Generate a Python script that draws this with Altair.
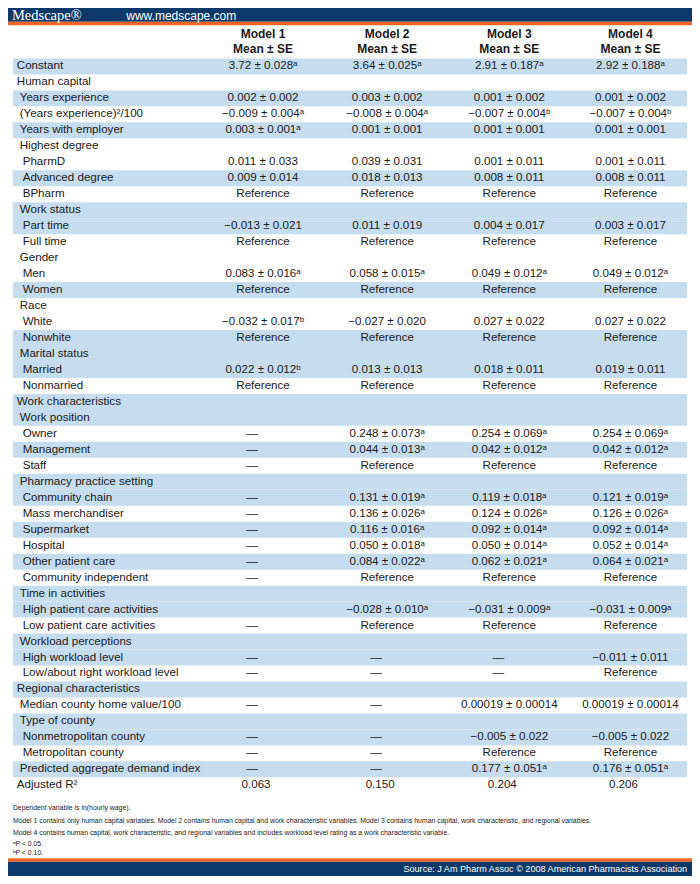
import altair as alt
import pandas as pd

# ---------------- data ----------------
labels = [
    "Constant", "Human capital", "Years experience", "(Years experience)²/100",
    "Years with employer", "Highest degree", "PharmD", "Advanced degree", "BPharm",
    "Work status", "Part time", "Full time", "Gender", "Men", "Women", "Race",
    "White", "Nonwhite", "Marital status", "Married", "Nonmarried",
    "Work characteristics", "Work position", "Owner", "Management", "Staff",
    "Pharmacy practice setting", "Community chain", "Mass merchandiser",
    "Supermarket", "Hospital", "Other patient care", "Community independent",
    "Time in activities", "High patient care activities", "Low patient care activities",
    "Workload perceptions", "High workload level", "Low/about right workload level",
    "Regional characteristics", "Median county home value/100", "Type of county",
    "Nonmetropolitan county", "Metropolitan county", "Predicted aggregate demand index",
    "Adjusted R²",
]
levels = [0, 0, 1, 1, 1, 1, 2, 2, 2, 1, 2, 2, 1, 2, 2, 1, 2, 2, 1, 2, 2,
          0, 1, 2, 2, 2, 1, 2, 2, 2, 2, 2, 2, 1, 2, 2, 1, 2, 2,
          0, 1, 1, 2, 2, 1, 0]
shaded = [1, 0, 1, 0, 1, 0, 0, 1, 0, 1, 1, 0, 0, 0, 1, 0, 0, 1, 1, 1, 0,
          1, 1, 0, 1, 0, 1, 1, 0, 1, 0, 1, 0, 1, 1, 0, 1, 1, 0,
          1, 0, 1, 1, 0, 1, 0]

D = "—"
R = "Reference"
model1 = [
    "3.72 ± 0.028ᵃ", "", "0.002 ± 0.002", "−0.009 ± 0.004ᵃ", "0.003 ± 0.001ᵃ", "",
    "0.011 ± 0.033", "0.009 ± 0.014", R, "", "−0.013 ± 0.021", R, "", "0.083 ± 0.016ᵃ", R,
    "", "−0.032 ± 0.017ᵇ", R, "", "0.022 ± 0.012ᵇ", R,
    "", "", D, D, D, "", D, D, D, D, D, D, "", "", D, "", D, D,
    "", D, "", D, D, D, "0.063",
]
model2 = [
    "3.64 ± 0.025ᵃ", "", "0.003 ± 0.002", "−0.008 ± 0.004ᵃ", "0.001 ± 0.001", "",
    "0.039 ± 0.031", "0.018 ± 0.013", R, "", "0.011 ± 0.019", R, "", "0.058 ± 0.015ᵃ", R,
    "", "−0.027 ± 0.020", R, "", "0.013 ± 0.013", R,
    "", "", "0.248 ± 0.073ᵃ", "0.044 ± 0.013ᵃ", R, "", "0.131 ± 0.019ᵃ", "0.136 ± 0.026ᵃ",
    "0.116 ± 0.016ᵃ", "0.050 ± 0.018ᵃ", "0.084 ± 0.022ᵃ", R, "", "−0.028 ± 0.010ᵃ", R,
    "", D, D, "", D, "", D, D, D, "0.150",
]
model3 = [
    "2.91 ± 0.187ᵃ", "", "0.001 ± 0.002", "−0.007 ± 0.004ᵇ", "0.001 ± 0.001", "",
    "0.001 ± 0.011", "0.008 ± 0.011", R, "", "0.004 ± 0.017", R, "", "0.049 ± 0.012ᵃ", R,
    "", "0.027 ± 0.022", R, "", "0.018 ± 0.011", R,
    "", "", "0.254 ± 0.069ᵃ", "0.042 ± 0.012ᵃ", R, "", "0.119 ± 0.018ᵃ", "0.124 ± 0.026ᵃ",
    "0.092 ± 0.014ᵃ", "0.050 ± 0.014ᵃ", "0.062 ± 0.021ᵃ", R, "", "−0.031 ± 0.009ᵃ", R,
    "", D, D, "", "0.00019 ± 0.00014", "", "−0.005 ± 0.022", R, "0.177 ± 0.051ᵃ", "0.204",
]
model4 = [
    "2.92 ± 0.188ᵃ", "", "0.001 ± 0.002", "−0.007 ± 0.004ᵇ", "0.001 ± 0.001", "",
    "0.001 ± 0.011", "0.008 ± 0.011", R, "", "0.003 ± 0.017", R, "", "0.049 ± 0.012ᵃ", R,
    "", "0.027 ± 0.022", R, "", "0.019 ± 0.011", R,
    "", "", "0.254 ± 0.069ᵃ", "0.042 ± 0.012ᵃ", R, "", "0.121 ± 0.019ᵃ", "0.126 ± 0.026ᵃ",
    "0.092 ± 0.014ᵃ", "0.052 ± 0.014ᵃ", "0.064 ± 0.021ᵃ", R, "", "−0.031 ± 0.009ᵃ", R,
    "", "−0.011 ± 0.011", R, "", "0.00019 ± 0.00014", "", "−0.005 ± 0.022", R,
    "0.176 ± 0.051ᵃ", "0.206",
]
model_names = ["Model 1", "Model 2", "Model 3", "Model 4"]
header_sub = "Mean ± SE"

footnotes = [
    "Dependent variable is ln(hourly wage).",
    "Model 1 contains only human capital variables. Model 2 contains human capital and work characteristic variables. Model 3 contains human capital, work characteristic, and regional variables.",
    "Model 4 contains human capital, work characteristic, and regional variables and includes workload level rating as a work characteristic variable.",
    "ᵃP < 0.05.",
    "ᵇP < 0.10.",
]
brand = "Medscape®"
url = "www.medscape.com"
source = "Source: J Am Pharm Assoc © 2008 American Pharmacists Association"

# ---------------- layout ----------------
W, H = 700, 884
ROW0, STEP = 59.5, 16.27
COL_X = [261, 388, 513, 637]
INDENT = {0: 9, 1: 12, 2: 15}
NAVY, ORANGE, BAND, INK = "#0b3a6a", "#f26522", "#c6dcef", "#1a1a1a"
FONT = "Liberation Sans, Arial, sans-serif"

xs = alt.Scale(domain=[0, W], nice=False, zero=False)
ys = alt.Scale(domain=[0, H], nice=False, zero=False, reverse=True)
X = lambda f="x": alt.X(f + ":Q", scale=xs, axis=None)
Y = lambda f="y": alt.Y(f + ":Q", scale=ys, axis=None)

row_y = [ROW0 + i * STEP for i in range(len(labels))]

# rectangles: bars + bands
rects = [
    dict(x=0, x2=W, y=0, y2=14, fill=NAVY),
    dict(x=0, x2=W, y=14, y2=17.5, fill=ORANGE),
    dict(x=0, x2=W, y=866, y2=869.5, fill=ORANGE),
    dict(x=0, x2=W, y=869.5, y2=H, fill=NAVY),
]
for i, s in enumerate(shaded):
    if s:
        rects.append(dict(x=5, x2=695, y=row_y[i] - STEP / 2, y2=row_y[i] + STEP / 2, fill=BAND))
rect_df = pd.DataFrame(rects)
rect_layer = alt.Chart(rect_df).mark_rect().encode(
    x=X(), x2="x2:Q", y=Y(), y2="y2:Q", fill=alt.Fill("fill:N", scale=None)
)

TS = 11.6
# labels
lab_df = pd.DataFrame({
    "x": [INDENT[l] for l in levels], "y": row_y, "t": labels,
})
lab_layer = alt.Chart(lab_df).mark_text(
    align="left", baseline="middle", font=FONT, fontSize=TS, color=INK
).encode(x=X(), y=Y(), text="t:N")

# values
vals = []
for m, col in enumerate([model1, model2, model3, model4]):
    for i, v in enumerate(col):
        if v == "":
            continue
        kind = "dash" if v == D else ("r2" if i == len(col) - 1 else "val")
        vals.append(dict(x=COL_X[m], y=row_y[i], t=v, kind=kind))
val_df = pd.DataFrame(vals)
val_base = alt.Chart(val_df).encode(x=X(), y=Y(), text="t:N")
val_layer = val_base.mark_text(
    align="center", baseline="middle", font=FONT, fontSize=TS, color=INK
).transform_filter(alt.datum.kind == "val")
dash_layer = val_base.mark_text(
    align="center", baseline="middle", font=FONT, fontSize=TS, color=INK, dx=-11
).transform_filter(alt.datum.kind == "dash")
r2_layer = val_base.mark_text(
    align="center", baseline="middle", font=FONT, fontSize=TS, color=INK, dx=-7
).transform_filter(alt.datum.kind == "r2")

# header
hdr = []
for m, name in enumerate(model_names):
    hdr.append(dict(x=COL_X[m], y=26, t=name))
    hdr.append(dict(x=COL_X[m], y=42, t=header_sub))
hdr_layer = alt.Chart(pd.DataFrame(hdr)).mark_text(
    align="center", baseline="middle", font=FONT, fontSize=12, fontWeight="bold", color=INK
).encode(x=X(), y=Y(), text="t:N")

# footnotes
fn_y = [815, 828, 840, 851, 861]
fn_layer = alt.Chart(pd.DataFrame({"x": [5] * 5, "y": fn_y, "t": footnotes})).mark_text(
    align="left", baseline="middle", font=FONT, fontSize=6.9, color=INK
).encode(x=X(), y=Y(), text="t:N")

# brand / url / source
brand_layer = alt.Chart(pd.DataFrame({"x": [4], "y": [8], "t": [brand]})).mark_text(
    align="left", baseline="middle", font="Liberation Serif, Times New Roman, serif",
    fontSize=14.5, color="white"
).encode(x=X(), y=Y(), text="t:N")
url_layer = alt.Chart(pd.DataFrame({"x": [121], "y": [8], "t": [url]})).mark_text(
    align="left", baseline="middle", font=FONT, fontSize=12, color="white"
).encode(x=X(), y=Y(), text="t:N")
src_layer = alt.Chart(pd.DataFrame({"x": [695], "y": [877], "t": [source]})).mark_text(
    align="right", baseline="middle", font=FONT, fontSize=9.1, color="white"
).encode(x=X(), y=Y(), text="t:N")

chart = alt.layer(
    rect_layer, lab_layer, val_layer, dash_layer, r2_layer, hdr_layer,
    fn_layer, brand_layer, url_layer, src_layer
).properties(
    width=684, height=868, padding=0, autosize=alt.AutoSizeParams(type="none")
).configure_view(stroke=None)

chart.save("out.html", embed_options={"renderer": "svg", "actions": False})
